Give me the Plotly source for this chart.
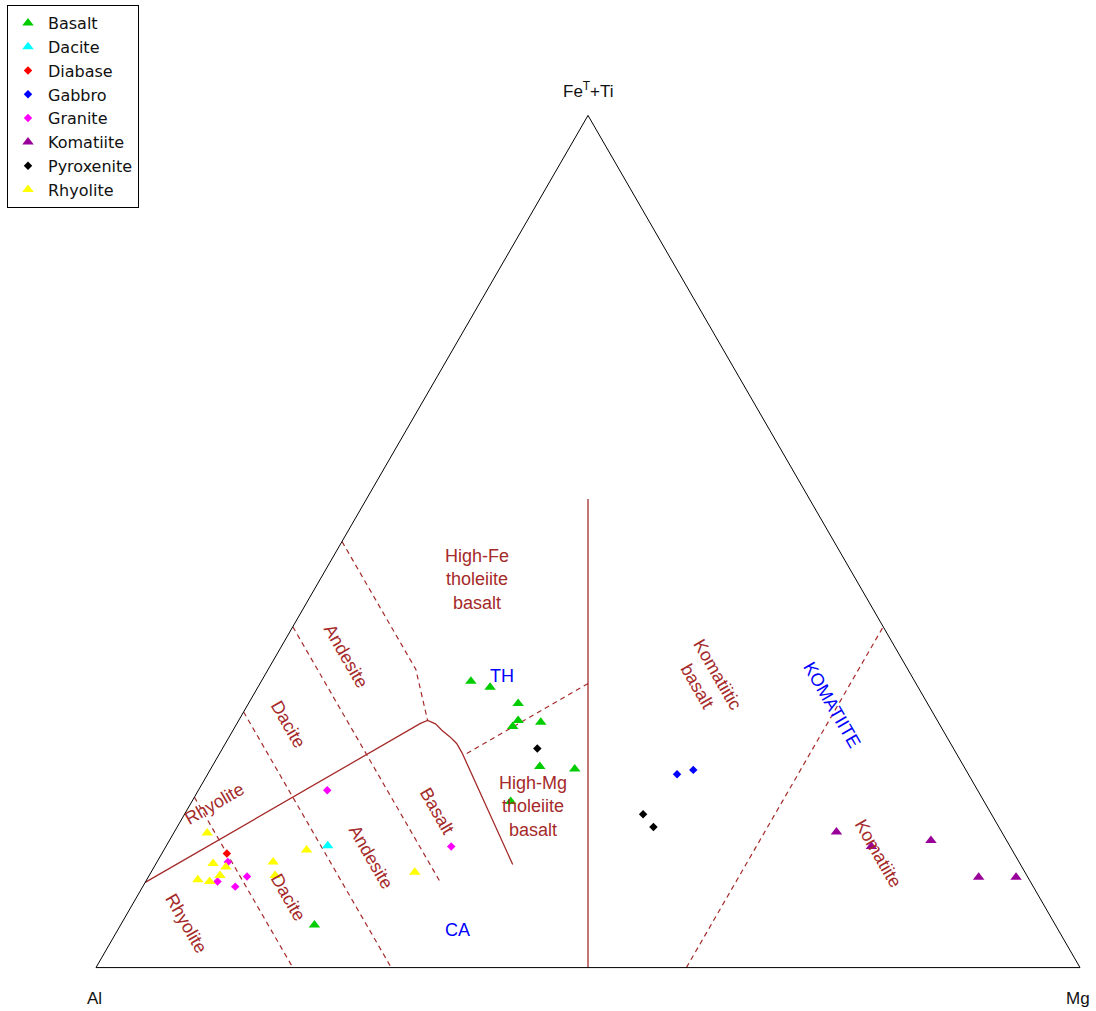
import plotly.graph_objects as go

# ---------------- data (ternary %, Al / FeT+Ti / Mg) ----------------
basalt_al = [45.1, 43.5, 41.6, 42.6, 43.5, 40.4, 43.1, 39.7, 48.1, 75.3]
basalt_fe = [33.6, 32.9, 31.0, 29.0, 28.3, 28.8, 23.6, 23.3, 19.5, 5.0]
basalt_mg = [21.3, 23.6, 27.4, 28.4, 28.2, 30.8, 33.3, 37.0, 32.4, 19.7]

dacite_al = [69.3]
dacite_fe = [14.3]
dacite_mg = [16.4]

diabase_al = [80.0]
diabase_fe = [13.4]
diabase_mg = [6.6]

gabbro_al = [29.6, 27.7]
gabbro_fe = [22.7, 23.2]
gabbro_mg = [47.7, 49.1]

granite_al = [80.4, 82.6, 79.3, 81.1, 66.1, 56.8]
granite_fe = [12.4, 10.1, 10.7, 9.5, 20.8, 14.2]
granite_mg = [7.2, 7.3, 10.0, 9.4, 13.1, 29.0]

komatiite_al = [16.8, 14.1, 7.7, 5.0, 1.2]
komatiite_fe = [15.9, 14.2, 14.9, 10.6, 10.6]
komatiite_mg = [67.3, 71.7, 77.4, 84.4, 88.2]

pyroxenite_al = [42.3, 35.4, 35.1]
pyroxenite_fe = [25.7, 18.0, 16.5]
pyroxenite_mg = [32.0, 46.6, 48.4]

rhyolite_al = [80.8, 82.0, 80.9, 82.0, 84.5, 83.4, 75.8, 76.4, 71.7, 62.0]
rhyolite_fe = [15.8, 12.2, 11.8, 10.8, 10.3, 10.1, 12.4, 10.8, 13.8, 11.2]
rhyolite_mg = [3.4, 5.8, 7.3, 7.2, 5.2, 6.5, 11.8, 12.8, 14.5, 26.8]

# ---------------- Jensen field boundaries ----------------
# solid lines
ca_th_al = [90.0, 52.7, 51.8, 51.2, 50.9, 50.5, 50.2, 50.2, 51.6]
ca_th_fe = [10.0, 28.65, 29.0, 28.6, 27.8, 27.1, 26.3, 25.2, 12.1]
ca_th_mg = [0.0, 18.65, 19.2, 20.2, 21.3, 22.4, 23.5, 24.6, 36.3]

vert_al = [50.0, 22.5]
vert_fe = [0.0, 55.0]
vert_mg = [50.0, 22.5]

# dashed lines
dashed_lines = [
    # (Al list, Fe list, Mg list)
    ([50.0, 50.0, 51.8], [50.0, 35.0, 29.0], [0.0, 15.0, 19.2]),   # High-Fe / Andesite
    ([60.0, 60.0], [40.0, 10.0], [0.0, 30.0]),                     # Andesite / Basalt
    ([70.0, 70.0], [30.0, 0.0], [0.0, 30.0]),                      # Dacite / Andesite
    ([80.0, 80.0], [20.0, 0.0], [0.0, 20.0]),                      # Rhyolite / Dacite
    ([33.33, 50.0], [33.33, 25.0], [33.34, 25.0]),                 # HFT / HMT
    ([40.0, 0.0], [0.0, 40.0], [60.0, 60.0]),                      # Komatiite
]

series = [
    ("Basalt", basalt_al, basalt_fe, basalt_mg, "#00CC00", "triangle-up"),
    ("Dacite", dacite_al, dacite_fe, dacite_mg, "#00FFFF", "triangle-up"),
    ("Diabase", diabase_al, diabase_fe, diabase_mg, "#FF0000", "diamond"),
    ("Gabbro", gabbro_al, gabbro_fe, gabbro_mg, "#0000FF", "diamond"),
    ("Granite", granite_al, granite_fe, granite_mg, "#FF00FF", "diamond"),
    ("Komatiite", komatiite_al, komatiite_fe, komatiite_mg, "#990099", "triangle-up"),
    ("Pyroxenite", pyroxenite_al, pyroxenite_fe, pyroxenite_mg, "#000000", "diamond"),
    ("Rhyolite", rhyolite_al, rhyolite_fe, rhyolite_mg, "#FFFF00", "triangle-up"),
]

BROWN = "#A52A2A"
FONT = "Arial, Liberation Sans, sans-serif"

fig = go.Figure()

fig.add_trace(go.Scatterternary(a=ca_th_fe, b=ca_th_al, c=ca_th_mg, mode="lines",
                                line=dict(color=BROWN, width=1.3), showlegend=False, hoverinfo="skip"))
fig.add_trace(go.Scatterternary(a=vert_fe, b=vert_al, c=vert_mg, mode="lines",
                                line=dict(color=BROWN, width=1.3), showlegend=False, hoverinfo="skip"))
for al, fe, mg in dashed_lines:
    fig.add_trace(go.Scatterternary(a=fe, b=al, c=mg, mode="lines",
                                    line=dict(color=BROWN, width=1.2, dash="5px,4px"),
                                    showlegend=False, hoverinfo="skip"))

for name, al, fe, mg, col, sym in series:
    size = 10 if sym == "triangle-up" else 6.5
    fig.add_trace(go.Scatterternary(a=fe, b=al, c=mg, mode="markers", name=name,
                                    marker=dict(color=col, symbol=sym, size=size, line=dict(width=0))))

W, H = 1096, 1011


def ann(text, px, py, color=BROWN, angle=0, size=18):
    return dict(text=text, x=px / W, y=1 - py / H, xref="paper", yref="paper",
                showarrow=False, textangle=angle, xanchor="center", yanchor="middle",
                font=dict(family=FONT, size=size, color=color))


annotations = [
    ann("High-Fe<br>tholeiite<br>basalt", 477, 579),
    ann("TH", 502, 676, color="#0000FF"),
    ann("High-Mg<br>tholeiite<br>basalt", 533, 806),
    ann("CA", 457, 930, color="#0000FF"),
    ann("Komatiitic<br>basalt", 708, 680, angle=60),
    ann("KOMATIITE", 832, 705, color="#0000FF", angle=60),
    ann("Komatiite", 878, 853, angle=60),
    ann("Basalt", 437, 811, angle=60),
    ann("Andesite", 371, 857, angle=60),
    ann("Dacite", 288, 897, angle=60),
    ann("Rhyolite", 186, 923, angle=60),
    ann("Rhyolite", 214, 804, angle=-30),
    ann("Dacite", 288, 724, angle=60),
    ann("Andesite", 346, 656, angle=60),
    ann("Fe<sup>T</sup>+Ti", 588, 90, color="#111111", size=17),
    ann("Al", 94, 998, color="#111111", size=17),
    ann("Mg", 1078, 998, color="#111111", size=17),
]

axis_style = dict(showgrid=False, showticklabels=False, ticks="", showline=True,
                  linecolor="black", linewidth=1, title=dict(text=""))

fig.update_layout(
    width=W, height=H,
    margin=dict(l=0, r=0, t=0, b=0),
    paper_bgcolor="white",
    plot_bgcolor="white",
    font=dict(family=FONT, size=16, color="#111111"),
    ternary=dict(
        sum=100,
        domain=dict(x=[96 / W, 1080 / W], y=[43 / H, 896 / H]),
        bgcolor="white",
        aaxis=axis_style,
        baxis=axis_style,
        caxis=axis_style,
    ),
    legend=dict(x=7 / W, y=1 - 5 / H, xanchor="left", yanchor="top",
                bordercolor="black", borderwidth=1, bgcolor="white",
                font=dict(family="DejaVu Sans, Arial, sans-serif", size=16, color="#111111"),
                itemsizing="trace"),
    annotations=annotations,
    showlegend=True,
)

fig.write_html("out.html")
